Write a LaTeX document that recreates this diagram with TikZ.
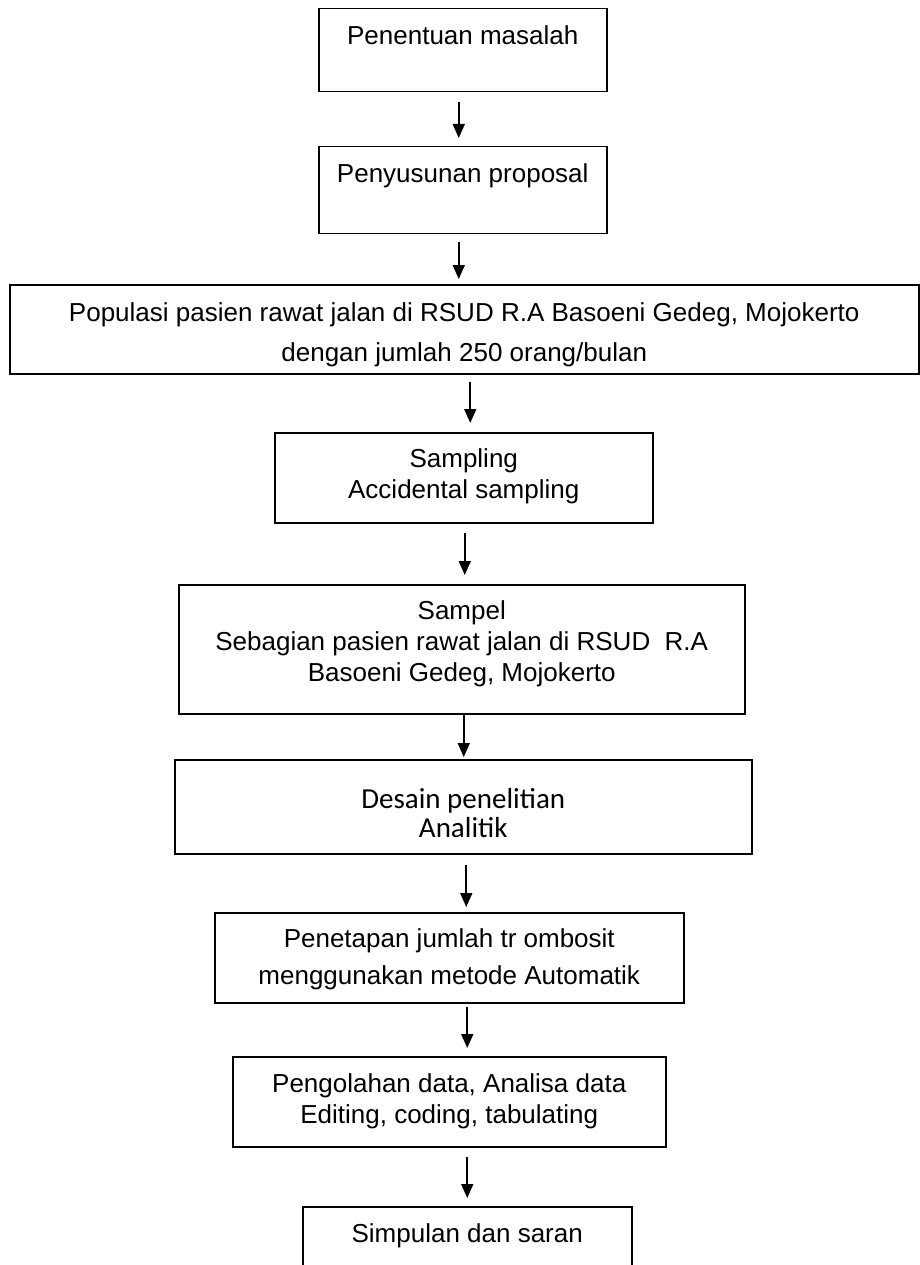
\documentclass[tikz,border=0pt]{standalone}
\usepackage{fontspec}
\setmainfont{Liberation Sans}
\newfontfamily\calibrifont{Carlito}
\usetikzlibrary{arrows.meta, positioning}
\tikzset{flowbox/.style={draw=black, line width=1.5pt, inner sep=0pt, anchor=north west, font=\fontsize{26pt}{31pt}\selectfont},flowarrow/.style={-{Triangle[length=14pt, width=12pt]}, line width=1.6pt}}
\newcommand{\boxtext}[4]{\parbox[c][#1][t]{#2}{\centering\vspace*{#3}#4}}

\begin{document}
\begin{tikzpicture}
        \useasboundingbox (0pt, 0pt) rectangle (919pt, -1265pt);
        % Boxes
        \node[flowbox] (masalah) at (318pt, -8pt) {\boxtext{83pt}{288pt}{17pt}{Penentuan masalah}};
        \node[flowbox] (proposal) at (318pt, -146pt) {\boxtext{87pt}{288pt}{17pt}{Penyusunan proposal}};
        \node[flowbox] (populasi) at (9pt, -284pt) {\boxtext{89pt}{909pt}{18pt}{Populasi pasien rawat jalan di RSUD R.A Basoeni Gedeg, Mojokerto\\[9pt] dengan jumlah 250 orang/bulan}};
        \node[flowbox] (sampling) at (274pt, -432pt) {\boxtext{90pt}{378pt}{16pt}{Sampling\\ Accidental sampling}};
        \node[flowbox] (sampel) at (178pt, -584pt) {\boxtext{129pt}{566pt}{16pt}{Sampel\\ Sebagian pasien rawat jalan di RSUD\ \ R.A\\ Basoeni Gedeg, Mojokerto}};
        \node[flowbox] (desain) at (174pt, -759pt) {\boxtext{94pt}{577pt}{29pt}{\calibrifont\fontsize{29pt}{29pt}\selectfont Desain penelitian\\ Analitik}};
        \node[flowbox] (penetapan) at (214pt, -912pt) {\boxtext{90pt}{469pt}{16pt}{Penetapan jumlah tr ombosit\\[6pt] menggunakan metode Automatik}};
        \node[flowbox] (pengolahan) at (232pt, -1056pt) {\boxtext{90pt}{433pt}{17pt}{Pengolahan data, Analisa data\\ Editing, coding, tabulating}};
        \node[flowbox] (simpulan) at (302pt, -1206pt) {\boxtext{90pt}{329pt}{17pt}{Simpulan dan saran}};
        % Arrows
        \foreach \from/\to/\dx/\gapa/\gapb in {
            masalah/proposal/-4pt/10pt/8pt,
            proposal/populasi/-4pt/8pt/5pt,
            populasi/sampling/6pt/7pt/9pt,
            sampling/sampel/1pt/9pt/9pt,
            sampel/desain/2pt/0pt/2pt,
            desain/penetapan/3pt/10pt/5pt,
            penetapan/pengolahan/18pt/3pt/8pt,
            pengolahan/simpulan/18pt/9pt/8pt} {
            \draw[flowarrow, shorten <=\gapa, shorten >=\gapb] ([xshift=\dx]\from.south) -- ([xshift=\dx]\from.south |- \to.north);
        }
\end{tikzpicture}
\end{document}
